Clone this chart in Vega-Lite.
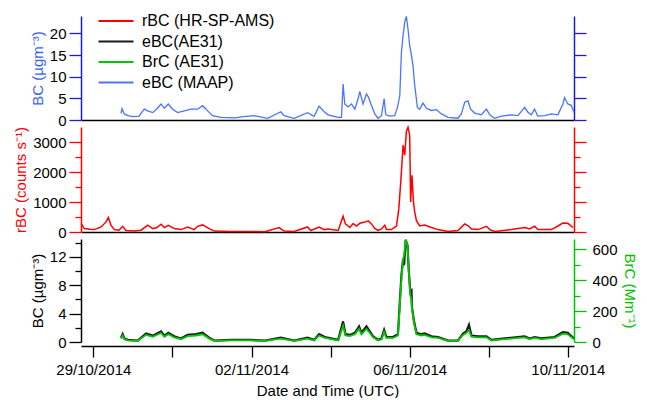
{
  "$schema": "https://vega.github.io/schema/vega-lite/v6.json",
  "padding": {"left": 13, "top": 13, "right": 2, "bottom": 0},
  "spacing": 7,
  "bounds": "flush",
  "config": {
    "font": "Liberation Sans",
    "view": {"stroke": null},
    "axis": {
      "grid": false,
      "labelFont": "Liberation Sans",
      "labelFontSize": 15,
      "labelColor": "black",
      "titleFont": "Liberation Sans",
      "titleFontSize": 15,
      "titleFontWeight": "normal",
      "domainWidth": 1.5,
      "tickWidth": 1.3,
      "labelPadding": 3
    }
  },
  "datasets": {
    "maap": [
      {"t": "2014-10-29T16:48:00Z", "v": 1.5},
      {"t": "2014-10-29T17:24:00Z", "v": 2.6},
      {"t": "2014-10-29T18:48:00Z", "v": 1.4},
      {"t": "2014-10-29T21:00:00Z", "v": 1.0},
      {"t": "2014-10-30T00:06:00Z", "v": 0.8},
      {"t": "2014-10-30T03:42:00Z", "v": 0.9},
      {"t": "2014-10-30T06:54:00Z", "v": 2.5},
      {"t": "2014-10-30T09:00:00Z", "v": 2.1},
      {"t": "2014-10-30T12:00:00Z", "v": 1.7},
      {"t": "2014-10-30T14:36:00Z", "v": 2.6},
      {"t": "2014-10-30T17:06:00Z", "v": 3.7},
      {"t": "2014-10-30T19:06:00Z", "v": 2.7},
      {"t": "2014-10-30T21:30:00Z", "v": 3.7},
      {"t": "2014-10-31T00:06:00Z", "v": 2.5},
      {"t": "2014-10-31T03:12:00Z", "v": 1.7},
      {"t": "2014-10-31T07:12:00Z", "v": 2.1},
      {"t": "2014-10-31T11:12:00Z", "v": 2.5},
      {"t": "2014-10-31T15:18:00Z", "v": 2.5},
      {"t": "2014-10-31T18:18:00Z", "v": 3.3},
      {"t": "2014-10-31T21:24:00Z", "v": 2.1},
      {"t": "2014-11-01T00:24:00Z", "v": 1.0},
      {"t": "2014-11-01T05:24:00Z", "v": 0.6},
      {"t": "2014-11-01T13:54:00Z", "v": 0.5},
      {"t": "2014-11-01T19:00:00Z", "v": 0.8},
      {"t": "2014-11-02T01:36:00Z", "v": 1.0},
      {"t": "2014-11-02T09:48:00Z", "v": 0.4},
      {"t": "2014-11-02T17:48:00Z", "v": 1.9},
      {"t": "2014-11-02T19:48:00Z", "v": 1.0},
      {"t": "2014-11-03T01:54:00Z", "v": 0.4},
      {"t": "2014-11-03T10:00:00Z", "v": 1.7},
      {"t": "2014-11-03T14:00:00Z", "v": 0.85},
      {"t": "2014-11-03T17:00:00Z", "v": 3.2},
      {"t": "2014-11-03T20:06:00Z", "v": 1.9},
      {"t": "2014-11-03T22:30:00Z", "v": 1.2},
      {"t": "2014-11-04T04:36:00Z", "v": 0.6},
      {"t": "2014-11-04T06:36:00Z", "v": 0.6},
      {"t": "2014-11-04T07:36:00Z", "v": 8.3},
      {"t": "2014-11-04T08:36:00Z", "v": 3.7},
      {"t": "2014-11-04T10:36:00Z", "v": 3.0},
      {"t": "2014-11-04T12:42:00Z", "v": 3.7},
      {"t": "2014-11-04T14:42:00Z", "v": 2.5},
      {"t": "2014-11-04T16:42:00Z", "v": 4.9},
      {"t": "2014-11-04T17:42:00Z", "v": 6.6},
      {"t": "2014-11-04T19:42:00Z", "v": 3.7},
      {"t": "2014-11-04T21:48:00Z", "v": 6.0},
      {"t": "2014-11-04T22:48:00Z", "v": 5.4},
      {"t": "2014-11-05T00:48:00Z", "v": 3.4},
      {"t": "2014-11-05T02:48:00Z", "v": 1.4},
      {"t": "2014-11-05T04:48:00Z", "v": 0.4},
      {"t": "2014-11-05T06:54:00Z", "v": 1.0},
      {"t": "2014-11-05T08:30:00Z", "v": 4.9},
      {"t": "2014-11-05T09:30:00Z", "v": 1.2},
      {"t": "2014-11-05T11:54:00Z", "v": 0.9},
      {"t": "2014-11-05T14:54:00Z", "v": 1.0},
      {"t": "2014-11-05T16:36:00Z", "v": 2.9},
      {"t": "2014-11-05T18:00:00Z", "v": 5.6},
      {"t": "2014-11-05T19:00:00Z", "v": 15.7},
      {"t": "2014-11-05T20:00:00Z", "v": 19.5},
      {"t": "2014-11-05T21:00:00Z", "v": 22.6},
      {"t": "2014-11-05T22:00:00Z", "v": 23.9},
      {"t": "2014-11-05T23:00:00Z", "v": 21.0},
      {"t": "2014-11-06T00:00:00Z", "v": 17.2},
      {"t": "2014-11-06T01:06:00Z", "v": 14.9},
      {"t": "2014-11-06T02:00:00Z", "v": 12.6},
      {"t": "2014-11-06T03:06:00Z", "v": 7.9},
      {"t": "2014-11-06T04:42:00Z", "v": 2.9},
      {"t": "2014-11-06T06:06:00Z", "v": 2.5},
      {"t": "2014-11-06T08:06:00Z", "v": 3.9},
      {"t": "2014-11-06T10:12:00Z", "v": 2.7},
      {"t": "2014-11-06T13:12:00Z", "v": 2.2},
      {"t": "2014-11-06T16:12:00Z", "v": 2.4},
      {"t": "2014-11-06T19:18:00Z", "v": 1.4},
      {"t": "2014-11-06T23:18:00Z", "v": 0.6},
      {"t": "2014-11-07T05:18:00Z", "v": 0.4},
      {"t": "2014-11-07T07:24:00Z", "v": 1.4},
      {"t": "2014-11-07T09:24:00Z", "v": 4.1},
      {"t": "2014-11-07T11:24:00Z", "v": 4.4},
      {"t": "2014-11-07T13:00:00Z", "v": 2.5},
      {"t": "2014-11-07T15:30:00Z", "v": 1.6},
      {"t": "2014-11-07T19:30:00Z", "v": 1.2},
      {"t": "2014-11-07T22:36:00Z", "v": 2.5},
      {"t": "2014-11-08T00:36:00Z", "v": 1.2},
      {"t": "2014-11-08T03:36:00Z", "v": 0.4},
      {"t": "2014-11-08T07:42:00Z", "v": 0.9},
      {"t": "2014-11-08T13:42:00Z", "v": 1.2},
      {"t": "2014-11-08T17:42:00Z", "v": 1.0},
      {"t": "2014-11-08T21:48:00Z", "v": 2.9},
      {"t": "2014-11-08T23:48:00Z", "v": 1.8},
      {"t": "2014-11-09T01:48:00Z", "v": 1.2},
      {"t": "2014-11-09T03:48:00Z", "v": 2.5},
      {"t": "2014-11-09T05:48:00Z", "v": 0.9},
      {"t": "2014-11-09T09:54:00Z", "v": 1.0},
      {"t": "2014-11-09T14:00:00Z", "v": 1.4},
      {"t": "2014-11-09T18:00:00Z", "v": 1.2},
      {"t": "2014-11-09T21:00:00Z", "v": 3.7},
      {"t": "2014-11-09T22:00:00Z", "v": 5.2},
      {"t": "2014-11-10T00:00:00Z", "v": 3.7},
      {"t": "2014-11-10T02:06:00Z", "v": 3.4},
      {"t": "2014-11-10T03:42:00Z", "v": 1.8}
    ],
    "rbc": [
      {"t": "2014-10-28T16:30:00Z", "v": 280},
      {"t": "2014-10-28T17:12:00Z", "v": 230},
      {"t": "2014-10-28T18:30:00Z", "v": 113},
      {"t": "2014-10-28T22:00:00Z", "v": 90},
      {"t": "2014-10-29T00:36:00Z", "v": 80},
      {"t": "2014-10-29T04:42:00Z", "v": 168},
      {"t": "2014-10-29T07:42:00Z", "v": 336},
      {"t": "2014-10-29T09:06:00Z", "v": 483},
      {"t": "2014-10-29T10:42:00Z", "v": 225},
      {"t": "2014-10-29T12:42:00Z", "v": 80},
      {"t": "2014-10-29T15:36:00Z", "v": 60},
      {"t": "2014-10-29T17:48:00Z", "v": 190},
      {"t": "2014-10-29T19:48:00Z", "v": 50},
      {"t": "2014-10-30T00:54:00Z", "v": 30},
      {"t": "2014-10-30T04:54:00Z", "v": 60},
      {"t": "2014-10-30T09:00:00Z", "v": 225},
      {"t": "2014-10-30T12:00:00Z", "v": 113},
      {"t": "2014-10-30T14:36:00Z", "v": 150},
      {"t": "2014-10-30T17:06:00Z", "v": 258},
      {"t": "2014-10-30T19:06:00Z", "v": 146},
      {"t": "2014-10-30T21:30:00Z", "v": 225},
      {"t": "2014-10-31T01:06:00Z", "v": 113},
      {"t": "2014-10-31T05:12:00Z", "v": 80},
      {"t": "2014-10-31T09:12:00Z", "v": 168},
      {"t": "2014-10-31T13:12:00Z", "v": 80},
      {"t": "2014-10-31T15:18:00Z", "v": 190},
      {"t": "2014-10-31T18:18:00Z", "v": 236},
      {"t": "2014-10-31T22:18:00Z", "v": 113},
      {"t": "2014-11-01T01:24:00Z", "v": 30},
      {"t": "2014-11-01T11:30:00Z", "v": 15},
      {"t": "2014-11-01T23:00:00Z", "v": 20},
      {"t": "2014-11-02T08:06:00Z", "v": 10},
      {"t": "2014-11-02T16:48:00Z", "v": 146},
      {"t": "2014-11-02T19:48:00Z", "v": 30},
      {"t": "2014-11-03T01:54:00Z", "v": 20},
      {"t": "2014-11-03T10:00:00Z", "v": 168},
      {"t": "2014-11-03T12:00:00Z", "v": 50},
      {"t": "2014-11-03T17:00:00Z", "v": 168},
      {"t": "2014-11-03T20:06:00Z", "v": 80},
      {"t": "2014-11-03T22:30:00Z", "v": 100},
      {"t": "2014-11-04T04:36:00Z", "v": 50},
      {"t": "2014-11-04T07:36:00Z", "v": 527},
      {"t": "2014-11-04T09:00:00Z", "v": 270},
      {"t": "2014-11-04T11:42:00Z", "v": 150},
      {"t": "2014-11-04T13:42:00Z", "v": 280},
      {"t": "2014-11-04T15:42:00Z", "v": 200},
      {"t": "2014-11-04T17:42:00Z", "v": 290},
      {"t": "2014-11-04T20:48:00Z", "v": 330},
      {"t": "2014-11-04T22:48:00Z", "v": 370},
      {"t": "2014-11-05T00:48:00Z", "v": 270},
      {"t": "2014-11-05T02:48:00Z", "v": 120},
      {"t": "2014-11-05T04:48:00Z", "v": 50},
      {"t": "2014-11-05T06:54:00Z", "v": 100},
      {"t": "2014-11-05T08:54:00Z", "v": 230},
      {"t": "2014-11-05T09:54:00Z", "v": 80},
      {"t": "2014-11-05T12:54:00Z", "v": 80},
      {"t": "2014-11-05T16:00:00Z", "v": 200},
      {"t": "2014-11-05T17:24:00Z", "v": 770},
      {"t": "2014-11-05T18:36:00Z", "v": 1670},
      {"t": "2014-11-05T20:00:00Z", "v": 2900},
      {"t": "2014-11-05T21:00:00Z", "v": 2560},
      {"t": "2014-11-05T22:00:00Z", "v": 3350},
      {"t": "2014-11-05T23:00:00Z", "v": 3490},
      {"t": "2014-11-06T00:00:00Z", "v": 3230},
      {"t": "2014-11-06T00:36:00Z", "v": 1000},
      {"t": "2014-11-06T01:24:00Z", "v": 1890},
      {"t": "2014-11-06T02:18:00Z", "v": 1000},
      {"t": "2014-11-06T03:06:00Z", "v": 660},
      {"t": "2014-11-06T04:06:00Z", "v": 380},
      {"t": "2014-11-06T06:06:00Z", "v": 200},
      {"t": "2014-11-06T09:06:00Z", "v": 230},
      {"t": "2014-11-06T13:12:00Z", "v": 150},
      {"t": "2014-11-06T17:12:00Z", "v": 80},
      {"t": "2014-11-06T23:18:00Z", "v": 20},
      {"t": "2014-11-07T05:18:00Z", "v": 50},
      {"t": "2014-11-07T09:24:00Z", "v": 270},
      {"t": "2014-11-07T11:48:00Z", "v": 200},
      {"t": "2014-11-07T13:30:00Z", "v": 100},
      {"t": "2014-11-07T17:30:00Z", "v": 80},
      {"t": "2014-11-07T22:36:00Z", "v": 190},
      {"t": "2014-11-08T00:36:00Z", "v": 80},
      {"t": "2014-11-08T03:36:00Z", "v": 20},
      {"t": "2014-11-08T13:42:00Z", "v": 80},
      {"t": "2014-11-08T21:48:00Z", "v": 150},
      {"t": "2014-11-09T00:48:00Z", "v": 100},
      {"t": "2014-11-09T03:48:00Z", "v": 190},
      {"t": "2014-11-09T05:48:00Z", "v": 80},
      {"t": "2014-11-09T14:00:00Z", "v": 80},
      {"t": "2014-11-09T18:00:00Z", "v": 200},
      {"t": "2014-11-09T21:00:00Z", "v": 300},
      {"t": "2014-11-10T00:00:00Z", "v": 290},
      {"t": "2014-11-10T03:06:00Z", "v": 150}
    ],
    "ae31": [
      {"t": "2014-10-29T16:48:00Z", "bc": 0.6, "brc": 22},
      {"t": "2014-10-29T17:48:00Z", "bc": 1.1, "brc": 42},
      {"t": "2014-10-29T18:48:00Z", "bc": 0.5, "brc": 18},
      {"t": "2014-10-29T20:54:00Z", "bc": 0.3, "brc": 10},
      {"t": "2014-10-30T02:54:00Z", "bc": 0.2, "brc": 8},
      {"t": "2014-10-30T08:00:00Z", "bc": 1.2, "brc": 46},
      {"t": "2014-10-30T12:00:00Z", "bc": 0.9, "brc": 34},
      {"t": "2014-10-30T17:06:00Z", "bc": 1.5, "brc": 58},
      {"t": "2014-10-30T19:06:00Z", "bc": 0.9, "brc": 34},
      {"t": "2014-10-30T21:30:00Z", "bc": 1.3, "brc": 50},
      {"t": "2014-10-31T01:06:00Z", "bc": 0.8, "brc": 30},
      {"t": "2014-10-31T05:12:00Z", "bc": 0.5, "brc": 18},
      {"t": "2014-10-31T09:12:00Z", "bc": 1.0, "brc": 38},
      {"t": "2014-10-31T14:18:00Z", "bc": 1.1, "brc": 42},
      {"t": "2014-10-31T18:18:00Z", "bc": 1.3, "brc": 50},
      {"t": "2014-10-31T22:18:00Z", "bc": 0.6, "brc": 22},
      {"t": "2014-11-01T01:24:00Z", "bc": 0.2, "brc": 7},
      {"t": "2014-11-01T11:30:00Z", "bc": 0.3, "brc": 10},
      {"t": "2014-11-01T23:00:00Z", "bc": 0.3, "brc": 10},
      {"t": "2014-11-02T08:06:00Z", "bc": 0.2, "brc": 7},
      {"t": "2014-11-02T17:48:00Z", "bc": 0.6, "brc": 22},
      {"t": "2014-11-03T01:54:00Z", "bc": 0.2, "brc": 7},
      {"t": "2014-11-03T10:00:00Z", "bc": 0.6, "brc": 22},
      {"t": "2014-11-03T14:00:00Z", "bc": 0.3, "brc": 10},
      {"t": "2014-11-03T17:00:00Z", "bc": 1.1, "brc": 42},
      {"t": "2014-11-03T20:30:00Z", "bc": 0.7, "brc": 26},
      {"t": "2014-11-04T04:36:00Z", "bc": 0.3, "brc": 10},
      {"t": "2014-11-04T07:36:00Z", "bc": 2.9, "brc": 105},
      {"t": "2014-11-04T09:00:00Z", "bc": 1.1, "brc": 42},
      {"t": "2014-11-04T11:42:00Z", "bc": 1.0, "brc": 38},
      {"t": "2014-11-04T14:42:00Z", "bc": 1.3, "brc": 50},
      {"t": "2014-11-04T17:18:00Z", "bc": 2.2, "brc": 85},
      {"t": "2014-11-04T18:42:00Z", "bc": 1.3, "brc": 50},
      {"t": "2014-11-04T21:48:00Z", "bc": 2.2, "brc": 85},
      {"t": "2014-11-04T23:48:00Z", "bc": 1.5, "brc": 58},
      {"t": "2014-11-05T01:48:00Z", "bc": 0.8, "brc": 30},
      {"t": "2014-11-05T04:48:00Z", "bc": 0.3, "brc": 10},
      {"t": "2014-11-05T06:54:00Z", "bc": 0.5, "brc": 18},
      {"t": "2014-11-05T08:30:00Z", "bc": 1.7, "brc": 65},
      {"t": "2014-11-05T09:54:00Z", "bc": 0.7, "brc": 26},
      {"t": "2014-11-05T13:54:00Z", "bc": 0.7, "brc": 26},
      {"t": "2014-11-05T16:54:00Z", "bc": 1.1, "brc": 42},
      {"t": "2014-11-05T18:00:00Z", "bc": 5.6, "brc": 235},
      {"t": "2014-11-05T19:00:00Z", "bc": 9.4, "brc": 410},
      {"t": "2014-11-05T20:00:00Z", "bc": 11.7, "brc": 530},
      {"t": "2014-11-05T20:36:00Z", "bc": 10.8, "brc": 560},
      {"t": "2014-11-05T21:36:00Z", "bc": 14.4, "brc": 660},
      {"t": "2014-11-05T22:42:00Z", "bc": 13.6, "brc": 625},
      {"t": "2014-11-05T23:24:00Z", "bc": 10.3, "brc": 470},
      {"t": "2014-11-06T00:24:00Z", "bc": 7.0, "brc": 300},
      {"t": "2014-11-06T01:06:00Z", "bc": 7.2, "brc": 270},
      {"t": "2014-11-06T01:24:00Z", "bc": 4.9, "brc": 215},
      {"t": "2014-11-06T02:36:00Z", "bc": 3.0, "brc": 125},
      {"t": "2014-11-06T04:06:00Z", "bc": 1.3, "brc": 50},
      {"t": "2014-11-06T07:06:00Z", "bc": 1.1, "brc": 42},
      {"t": "2014-11-06T09:06:00Z", "bc": 1.2, "brc": 46},
      {"t": "2014-11-06T13:12:00Z", "bc": 0.8, "brc": 30},
      {"t": "2014-11-06T17:12:00Z", "bc": 0.7, "brc": 26},
      {"t": "2014-11-06T23:18:00Z", "bc": 0.2, "brc": 7},
      {"t": "2014-11-07T05:18:00Z", "bc": 0.2, "brc": 7},
      {"t": "2014-11-07T08:24:00Z", "bc": 1.2, "brc": 46},
      {"t": "2014-11-07T10:24:00Z", "bc": 1.5, "brc": 58},
      {"t": "2014-11-07T12:00:00Z", "bc": 2.4, "brc": 75},
      {"t": "2014-11-07T13:30:00Z", "bc": 0.9, "brc": 34},
      {"t": "2014-11-07T17:30:00Z", "bc": 0.8, "brc": 30},
      {"t": "2014-11-07T22:36:00Z", "bc": 0.8, "brc": 30},
      {"t": "2014-11-08T01:36:00Z", "bc": 0.3, "brc": 10},
      {"t": "2014-11-08T09:42:00Z", "bc": 0.5, "brc": 18},
      {"t": "2014-11-08T21:48:00Z", "bc": 0.8, "brc": 30},
      {"t": "2014-11-09T00:48:00Z", "bc": 0.5, "brc": 18},
      {"t": "2014-11-09T03:48:00Z", "bc": 0.7, "brc": 26},
      {"t": "2014-11-09T07:54:00Z", "bc": 0.5, "brc": 18},
      {"t": "2014-11-09T16:00:00Z", "bc": 0.7, "brc": 26},
      {"t": "2014-11-09T21:00:00Z", "bc": 1.4, "brc": 54},
      {"t": "2014-11-10T00:00:00Z", "bc": 1.3, "brc": 50},
      {"t": "2014-11-10T03:42:00Z", "bc": 0.5, "brc": 18}
    ]
  },
  "resolve": {"scale": {"color": "independent"}},
  "vconcat": [
    {
      "width": 493,
      "height": 104,
      "data": {"name": "maap"},
      "layer": [
        {
          "mark": {"type": "line", "strokeWidth": 1.3},
          "encoding": {
            "x": {
              "field": "t", "type": "temporal",
              "scale": {"type": "utc", "domain": [{"year": 2014, "month": 10, "date": 28, "hours": 16, "minutes": 30, "utc": true}, {"year": 2014, "month": 11, "date": 10, "hours": 3, "minutes": 45, "utc": true}]},
              "axis": {"title": null, "labels": false, "ticks": false, "domainColor": "black"}
            },
            "y": {
              "field": "v", "type": "quantitative",
              "scale": {"domain": [0, 24], "nice": false},
              "axis": {"orient": "left", "title": "BC (µgm⁻³)", "titleColor": "#3b63f0", "domainColor": "#1c1cd0", "tickColor": "#1c1cd0", "values": [0, 5, 10, 15, 20], "tickSize": 12}
            },
            "color": {
              "datum": "eBC (MAAP)", "type": "nominal",
              "scale": {"domain": ["rBC (HR-SP-AMS)", "eBC(AE31)", "BrC (AE31)", "eBC (MAAP)"], "range": ["#ff0000", "#1a1a1a", "#00c800", "#4a74ff"]},
              "legend": {"orient": "none", "legendX": 27, "legendY": -3, "title": null, "padding": 0, "symbolType": "M-3.5,0L3.5,0", "symbolSize": 100, "symbolStrokeWidth": 1.8, "labelFont": "Liberation Sans", "labelFontSize": 16, "labelColor": "black", "labelOffset": 18, "rowPadding": 4.5}
            }
          }
        },
        {
          "mark": {"type": "line", "opacity": 0},
          "encoding": {
            "x": {"field": "t", "type": "temporal"},
            "y": {"field": "v", "type": "quantitative", "axis": {"orient": "right", "title": null, "labels": false, "domainColor": "#1c1cd0", "tickColor": "#1c1cd0", "values": [0, 5, 10, 15, 20], "tickSize": 12}}
          }
        }
      ],
      "resolve": {"axis": {"y": "independent"}}
    },
    {
      "width": 493,
      "height": 105,
      "data": {"name": "rbc"},
      "layer": [
        {
          "mark": {"type": "line", "strokeWidth": 1.5},
          "encoding": {
            "x": {
              "field": "t", "type": "temporal",
              "scale": {"type": "utc", "domain": [{"year": 2014, "month": 10, "date": 28, "hours": 16, "minutes": 30, "utc": true}, {"year": 2014, "month": 11, "date": 10, "hours": 3, "minutes": 45, "utc": true}]},
              "axis": {"title": null, "labels": false, "ticks": false, "domainColor": "black"}
            },
            "y": {
              "field": "v", "type": "quantitative",
              "scale": {"domain": [0, 3500], "nice": false},
              "axis": {"orient": "left", "title": "rBC (counts s⁻¹)", "titleColor": "#ff0000", "domainColor": "#ff0000", "tickColor": "#ff0000", "format": "d", "values": [0, 500, 1000, 1500, 2000, 2500, 3000], "labelExpr": "datum.value % 1000 === 0 ? datum.label : ''", "tickSize": {"condition": {"test": "datum.value % 1000 !== 0", "value": 6}, "value": 12}}
            },
            "color": {
              "datum": "rBC (HR-SP-AMS)", "type": "nominal",
              "scale": {"domain": ["rBC (HR-SP-AMS)", "eBC(AE31)", "BrC (AE31)", "eBC (MAAP)"], "range": ["#ff0000", "#1a1a1a", "#00c800", "#4a74ff"]},
              "legend": null
            }
          }
        },
        {
          "mark": {"type": "line", "opacity": 0},
          "encoding": {
            "x": {"field": "t", "type": "temporal"},
            "y": {"field": "v", "type": "quantitative", "axis": {"orient": "right", "title": null, "labels": false, "domainColor": "#ff0000", "tickColor": "#ff0000", "values": [0, 500, 1000, 1500, 2000, 2500, 3000], "tickSize": {"condition": {"test": "datum.value % 1000 !== 0", "value": 6}, "value": 12}}}
          }
        }
      ],
      "resolve": {"axis": {"y": "independent"}}
    },
    {
      "width": 493,
      "height": 103,
      "data": {"name": "ae31"},
      "layer": [
        {
          "mark": {"type": "line", "strokeWidth": 2.2},
          "encoding": {
            "x": {
              "field": "t", "type": "temporal",
              "scale": {"type": "utc", "domain": [{"year": 2014, "month": 10, "date": 28, "hours": 16, "minutes": 30, "utc": true}, {"year": 2014, "month": 11, "date": 10, "hours": 3, "minutes": 45, "utc": true}]},
              "axis": {
                "title": "Date and Time (UTC)", "titlePadding": 6, "offset": 4, "domainColor": "black", "tickColor": "black", "tickSize": 11, "labelPadding": 5, "format": "%d/%m/%Y",
                "values": [{"year": 2014, "month": 10, "date": 29, "utc": true}, {"year": 2014, "month": 10, "date": 31, "utc": true}, {"year": 2014, "month": 11, "date": 2, "utc": true}, {"year": 2014, "month": 11, "date": 4, "utc": true}, {"year": 2014, "month": 11, "date": 6, "utc": true}, {"year": 2014, "month": 11, "date": 8, "utc": true}, {"year": 2014, "month": 11, "date": 10, "utc": true}],
                "labelExpr": "indexof(['31/10/2014', '04/11/2014', '08/11/2014'], datum.label) >= 0 ? '' : datum.label"
              }
            },
            "y": {
              "field": "bc", "type": "quantitative",
              "scale": {"domain": [0, 14.5], "nice": false},
              "axis": {"orient": "left", "title": "BC (µgm⁻³)", "titleColor": "black", "domainColor": "black", "tickColor": "black", "values": [0, 2, 4, 6, 8, 10, 12, 14], "labelExpr": "datum.value % 4 === 0 ? datum.label : ''", "tickSize": {"condition": {"test": "datum.value % 4 !== 0", "value": 6}, "value": 12}}
            },
            "color": {
              "datum": "eBC(AE31)", "type": "nominal",
              "scale": {"domain": ["rBC (HR-SP-AMS)", "eBC(AE31)", "BrC (AE31)", "eBC (MAAP)"], "range": ["#ff0000", "#1a1a1a", "#00c800", "#4a74ff"]},
              "legend": null
            }
          }
        },
        {
          "mark": {"type": "line", "strokeWidth": 1.8},
          "encoding": {
            "x": {"field": "t", "type": "temporal"},
            "y": {
              "field": "brc", "type": "quantitative",
              "scale": {"domain": [0, 665], "nice": false},
              "axis": {"orient": "right", "title": "BrC (Mm⁻¹)", "titleColor": "#00c000", "domainColor": "#00c000", "tickColor": "#00c000", "labelPadding": 6, "values": [0, 100, 200, 300, 400, 500, 600], "labelExpr": "datum.value % 200 === 0 ? datum.label : ''", "tickSize": {"condition": {"test": "datum.value % 200 !== 0", "value": 6}, "value": 12}}
            },
            "color": {
              "datum": "BrC (AE31)", "type": "nominal",
              "scale": {"domain": ["rBC (HR-SP-AMS)", "eBC(AE31)", "BrC (AE31)", "eBC (MAAP)"], "range": ["#ff0000", "#1a1a1a", "#00c800", "#4a74ff"]},
              "legend": null
            }
          }
        }
      ],
      "resolve": {"scale": {"y": "independent"}}
    }
  ]
}
